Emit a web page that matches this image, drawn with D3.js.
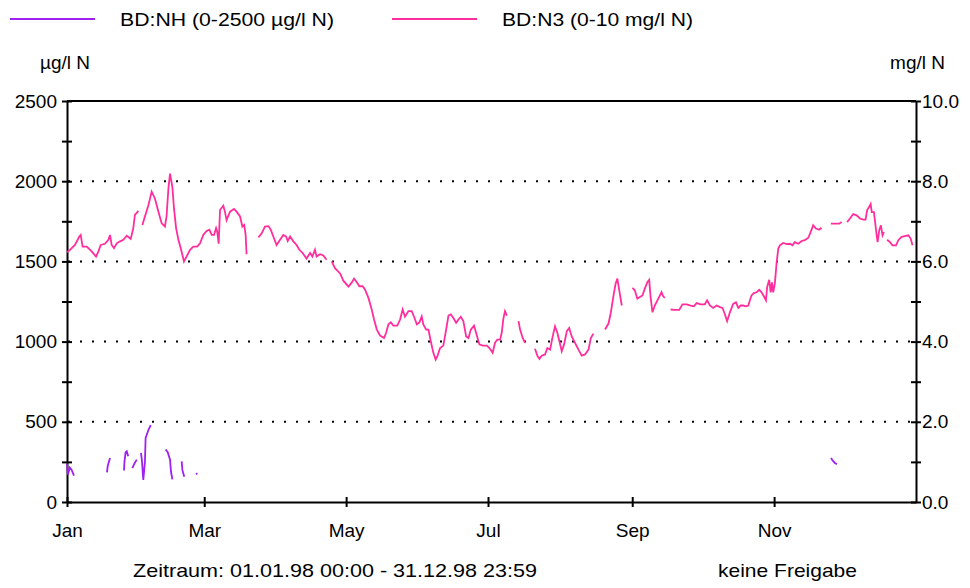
<!DOCTYPE html>
<html>
<head>
<meta charset="utf-8">
<script src="https://cdn.jsdelivr.net/npm/d3@7"></script>
<style>
  body { margin: 0; background: #fff; }
  svg text { font-family: "Liberation Sans", Arial, sans-serif; font-size: 19px; fill: #000; }
</style>
</head>
<body>
<svg id="chart"></svg>
<script>
// day of year (0 = 1 Jan 1998), null value = gap in the record
const n3Days = [
  0, 1.3, 3.4, 5.3, 5.9, 6.7, 8.5, 10.6, 12.5, 13.5, 14.5, 16.3, 17.8, 18.5, 19.2, 20.2, 21.4, 22.8, 24.2, 25.7, 27.4, 28.5, 29.2, 30.7, 31.5,
  32.4, 33.5, 35.0, 36.4, 37.8, 39.3, 40.7, 42.1, 42.8, 43.6, 44.3, 45.3, 46.0, 46.9, 47.9, 48.9, 50.3, 51.4, 52.9, 54.3, 56.0, 57.2, 58.6, 60.0, 61.2, 62.2, 63.2, 64.1, 64.6, 65.2, 65.8, 67.2, 67.9, 68.6, 70.1, 71.8, 72.9, 74.4, 75.4, 76.2, 76.8, 77.2, 80,
  82.3, 83.7, 85.1, 86.6, 87.6, 88.7, 90.1, 91.6, 93.0, 94.2, 94.9, 95.9, 97.3, 98.7, 99.9, 101.3, 103.0, 104.5, 105.5, 106.6, 107.3, 108.8, 110.2, 111.6, 112.7,
  113.8, 115.2, 117.4, 118.8, 121.0, 122.4, 123.4, 124.6, 125.7, 127.1, 128.1, 129.6, 131.0, 132.0, 133.2, 134.6, 136.3, 137.2, 138.2, 139.2, 140.3, 142.0, 143.2, 144.3, 145.3, 146.8, 148.2, 149.2, 150.4, 151.5, 152.5, 153.2, 154.4, 155.4, 156.4, 157.5, 158.5, 159.2, 160.4, 161.8, 163.0, 164.0, 165.0, 166.1, 167.3, 168.3, 169.3, 170.4, 171.6, 172.6, 173.6, 175.0, 176.2, 177.3, 178.7, 180.5, 181.6, 183.0, 184.0, 185.0, 186.2, 186.9, 187.6, 188.3, 189.1, 191.5,
  194.1, 194.8, 195.9, 196.9, 199,
  201.2, 202.2, 203.1, 204.1, 205.5, 206.5, 207.7, 208.8, 209.8, 210.8, 211.7, 212.7, 213.7, 214.9, 215.9, 217.0, 218.4, 219.9, 221.3, 222.7, 224.2, 225.2, 226.3, 229,
  231.3, 232.8, 233.8, 234.9, 235.8, 236.6, 237.5, 238.5, 241,
  243.1, 244.1, 245.2, 246.3, 247.4, 248.4, 249.5, 250.3, 250.9, 251.7, 252.7, 254.2, 255.6, 256.3, 257.0, 258.2,
  259.5, 261.3, 263.2, 264.6, 266.4, 268.1, 269.5, 270.7, 272.4, 274.2, 275.2, 276.4, 277.8, 279.3, 280.7, 281.8, 282.8, 283.8, 285.0, 286.4, 287.6, 288.6, 289.6, 290.7, 291.9, 292.9, 293.6, 294.3, 295.3, 296.5, 297.6, 298.6, 299.6, 300.5, 301.0, 301.9, 302.5, 303.1, 303.6, 304.3, 305.1, 305.8, 306.5, 307.9, 309.4, 310.8, 311.9, 312.9, 314.4, 315.8, 317.2, 318.7, 319.7, 320.8, 322.0, 323.4, 324.4, 326.5,
  328.4, 330.1, 332.0, 333.0, 334.2,
  335.4, 336.6, 338.0, 339.5, 340.9, 342.3, 343.3, 344.0, 344.9, 345.5, 346.0, 346.9, 347.5, 348.0, 348.5, 349.2, 349.9, 350.6, 351.2, 351.9,
  352.6, 353.8, 354.9, 356.4, 357.4, 358.8, 360.2, 361.7, 362.7, 363.5
];
const n3Values = [
  6.23, 6.29, 6.41, 6.62, 6.66, 6.37, 6.37, 6.25, 6.12, 6.25, 6.41, 6.44, 6.54, 6.66, 6.41, 6.33, 6.45, 6.50, 6.54, 6.64, 6.56, 6.83, 7.16, 7.26, null,
  6.91, 7.12, 7.40, 7.74, 7.57, 7.24, 6.95, 6.87, 7.12, 7.82, 8.19, 7.86, 7.32, 6.83, 6.54, 6.33, 6.00, 6.12, 6.29, 6.37, 6.37, 6.45, 6.66, 6.76, 6.79, 6.66, 6.66, 6.83, 6.74, 6.44, 7.28, 7.39, 7.24, 7.03, 7.24, 7.31, 7.24, 7.12, 6.87, 6.91, 6.66, 6.18, null,
  6.60, 6.70, 6.87, 6.88, 6.79, 6.62, 6.41, 6.54, 6.66, 6.62, 6.51, 6.62, 6.50, 6.41, 6.29, 6.21, 6.07, 6.21, 6.12, 6.29, 6.12, 6.18, 6.15, 6.04, null,
  6.00, 5.83, 5.70, 5.52, 5.37, 5.47, 5.57, 5.48, 5.38, 5.38, 5.30, 5.09, 4.80, 4.55, 4.30, 4.15, 4.09, 4.22, 4.43, 4.48, 4.40, 4.40, 4.55, 4.80, 4.62, 4.76, 4.76, 4.62, 4.43, 4.48, 4.63, 4.43, 4.30, 4.30, 4.01, 3.72, 3.55, 3.63, 3.84, 3.90, 4.30, 4.65, 4.68, 4.59, 4.47, 4.55, 4.62, 4.51, 4.13, 4.09, 4.30, 4.40, 4.15, 3.93, 3.90, 3.90, 3.84, 3.72, 3.97, 4.05, 4.05, 4.22, 4.57, 4.76, 4.65, null,
  4.51, 4.30, 4.09, 3.97, null,
  3.82, 3.65, 3.57, 3.65, 3.68, 3.84, 3.80, 4.13, 4.38, 4.22, 4.01, 3.76, 3.93, 4.26, 4.34, 4.13, 3.97, 3.80, 3.65, 3.68, 3.80, 4.09, 4.20, null,
  4.30, 4.45, 4.72, 5.13, 5.43, 5.57, 5.25, 4.90, null,
  5.34, 5.28, 5.07, 5.11, 5.15, 5.32, 5.48, 5.54, 5.11, 4.73, 4.90, 5.07, 5.23, 5.13, 5.09, null,
  4.80, 4.79, 4.79, 4.93, 4.93, 4.90, 4.88, 4.96, 4.93, 4.93, 5.03, 4.90, 4.84, 4.90, 4.86, 4.84, 4.69, 4.51, 4.73, 4.94, 4.98, 4.84, 4.90, 4.90, 4.88, 4.90, 5.03, 5.15, 5.21, 5.23, 5.29, 5.23, 5.13, 5.03, 5.36, 5.54, 5.23, 5.48, 5.23, 5.44, 5.98, 6.32, 6.40, 6.46, 6.43, 6.44, 6.40, 6.48, 6.44, 6.51, 6.53, 6.59, 6.73, 6.90, 6.82, 6.79, 6.84, null,
  6.94, 6.94, 6.94, 6.98, null,
  6.98, 7.07, 7.18, 7.15, 7.07, 7.04, 7.04, 7.28, 7.36, 7.43, 7.23, 7.23, 6.94, 6.69, 6.48, 6.78, 6.90, 6.65, 6.73, null,
  6.54, 6.48, 6.40, 6.40, 6.53, 6.61, 6.63, 6.65, 6.57, 6.40
];

const nhDays = [
  0, 0.4, 1.2, 2.0, 3.0, 9,
  17.2, 17.5, 18.5, 21,
  24.5, 24.7, 25.2, 25.7, 26.3, 27,
  28.1, 29.0, 30.0, 31,
  31.8, 32.2, 32.8, 33.5, 33.8, 35.0, 36.0, 39,
  42.4, 43.3, 44.3, 44.7, 45.3, 47,
  49.3, 49.6, 50.4, 53,
  55.5, 56.0, 100,
  328.5, 329.0, 330.0, 331.0
];
const nhValues = [
  240, 170, 215, 200, 165, null,
  185, 225, 275, null,
  196, 250, 310, 316, 285, null,
  211, 240, 264, null,
  306, 260, 137, 250, 400, 449, 479, null,
  327, 310, 264, 190, 141, null,
  253, 200, 158, null,
  180, 172, null,
  275, 262, 245, 236
];

const leftTicks = [0, 250, 500, 750, 1000, 1250, 1500, 1750, 2000, 2250, 2500];
const rightTicks = [0, 1, 2, 3, 4, 5, 6, 7, 8, 9, 10];
const monthTicks = ["1998-01-01", "1998-03-01", "1998-05-01", "1998-07-01", "1998-09-01", "1998-11-01"];
const gridValues = [500, 1000, 1500, 2000];

const W = 970, H = 588;
const X0 = 67, X1 = 916, Y0 = 502, Y1 = 101;
const PINK = "#ff2e9c", PURPLE = "#a020f0";

const svg = d3.select("#chart").attr("width", W).attr("height", H);

const start = new Date(Date.UTC(1998, 0, 1));
const toDate = d => new Date(start.getTime() + d * 86400000);

const x = d3.scaleUtc().domain([start, new Date(Date.UTC(1999, 0, 1))]).range([X0, X1]);
const yL = d3.scaleLinear().domain([0, 2500]).range([Y0, Y1]);
const yR = d3.scaleLinear().domain([0, 10]).range([Y0, Y1]);

// dotted grid
svg.append("g").selectAll("line").data(gridValues).enter().append("line")
  .attr("x1", X0 + 1).attr("x2", X1)
  .attr("y1", d => yL(d)).attr("y2", d => yL(d))
  .attr("stroke", "#000").attr("stroke-width", 2).attr("stroke-dasharray", "2,10");

// top line
svg.append("line").attr("x1", X0).attr("x2", X1).attr("y1", yL(2500)).attr("y2", yL(2500))
  .attr("stroke", "#000").attr("stroke-width", 2);

function styleAxis(g) {
  g.select(".domain").attr("stroke", "#000").attr("stroke-width", 2);
  g.selectAll(".tick line").attr("stroke", "#000").attr("stroke-width", 2);
  g.selectAll("text").attr("font-size", 19).attr("font-family", "Liberation Sans, Arial, sans-serif");
}

const gl = svg.append("g").attr("transform", `translate(${X0},0)`)
  .call(d3.axisLeft(yL).tickValues(leftTicks).tickSize(5).tickSizeOuter(0).tickPadding(5)
    .tickFormat(d => d % 500 === 0 ? d : ""));
gl.selectAll(".tick line").attr("x1", 5);
styleAxis(gl);

const gr = svg.append("g").attr("transform", `translate(${X1},0)`)
  .call(d3.axisRight(yR).tickValues(rightTicks).tickSize(5).tickSizeOuter(0).tickPadding(1)
    .tickFormat(d => d % 2 === 0 ? d.toFixed(1) : ""));
gr.selectAll(".tick line").attr("x1", -5);
styleAxis(gr);

const gb = svg.append("g").attr("transform", `translate(0,${Y0})`)
  .call(d3.axisBottom(x).tickValues(monthTicks.map(s => new Date(s + "T00:00:00Z")))
    .tickSize(5).tickSizeOuter(0).tickPadding(17).tickFormat(d3.utcFormat("%b")));
gb.selectAll(".tick line").attr("y1", -5);
styleAxis(gb);

// series
const n3 = n3Days.map((d, i) => ({ t: toDate(d), v: n3Values[i] }));
const nh = nhDays.map((d, i) => ({ t: toDate(d), v: nhValues[i] }));

svg.append("path").datum(n3)
  .attr("fill", "none").attr("stroke", PINK).attr("stroke-width", 1.8)
  .attr("d", d3.line().defined(d => d.v !== null).x(d => x(d.t)).y(d => yR(d.v)));

svg.append("path").datum(nh)
  .attr("fill", "none").attr("stroke", PURPLE).attr("stroke-width", 1.8)
  .attr("d", d3.line().defined(d => d.v !== null).x(d => x(d.t)).y(d => yL(d.v)));

// legend
const legend = [
  { label: "BD:NH (0-2500 µg/l N)", color: PURPLE, x: 10, len: 214 },
  { label: "BD:N3 (0-10 mg/l N)", color: PINK, x: 392, len: 191 }
];
legend.forEach(l => {
  svg.append("line").attr("x1", l.x).attr("x2", l.x + 85).attr("y1", 19).attr("y2", 19)
    .attr("stroke", l.color).attr("stroke-width", 2);
  svg.append("text").attr("x", l.x + 110).attr("y", 26)
    .attr("textLength", l.len).attr("lengthAdjust", "spacingAndGlyphs").text(l.label);
});

// units
svg.append("text").attr("x", 40).attr("y", 69).text("µg/l N");
svg.append("text").attr("x", 945).attr("y", 69).attr("text-anchor", "end").text("mg/l N");

// footer
svg.append("text").attr("x", 133).attr("y", 577)
  .attr("textLength", 404).attr("lengthAdjust", "spacingAndGlyphs")
  .text("Zeitraum: 01.01.98 00:00 - 31.12.98 23:59");
svg.append("text").attr("x", 718).attr("y", 577)
  .attr("textLength", 139).attr("lengthAdjust", "spacingAndGlyphs")
  .text("keine Freigabe");
</script>
</body>
</html>
